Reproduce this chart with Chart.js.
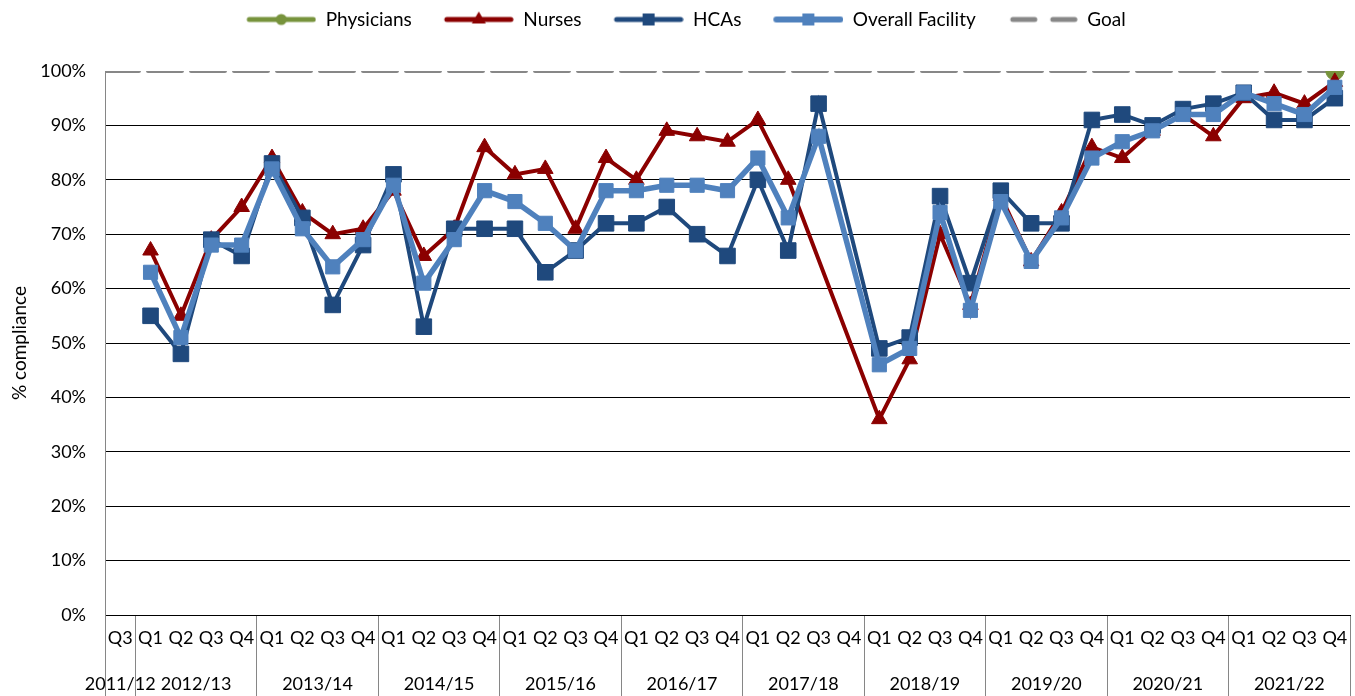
<!DOCTYPE html>
<html>
<head>
<meta charset="utf-8">
<script src="https://cdn.jsdelivr.net/npm/chart.js@4.4.1/dist/chart.umd.min.js"></script>
<style>
  html, body { margin: 0; padding: 0; background: #fff; }
</style>
</head>
<body>
<canvas id="chart-compliance" width="1355" height="696"></canvas>
<script>
/**
 * Hand hygiene compliance by staff group — quarterly line chart
 */

// Financial years and the quarters reported in each
const yearLabels = ['2011/12', '2012/13', '2013/14', '2014/15', '2015/16', '2016/17',
  '2017/18', '2018/19', '2019/20', '2020/21', '2021/22'];
const Q = ['Q1', 'Q2', 'Q3', 'Q4'];
const yearQuarters = [['Q3'], Q, Q, Q, Q, Q, Q, Q, Q, Q, Q];
const categories = yearQuarters.flat();

// % compliance per quarter (null = not reported)
const physicians = [null,
  null, null, null, null,  null, null, null, null,  null, null, null, null,
  null, null, null, null,  null, null, null, null,  null, null, null, null,
  null, null, null, null,  null, null, null, null,  null, null, null, null,
  null, null, null, 100];
const nurses = [null,
  67, 55, 69, 75,  84, 74, 70, 71,  78, 66, 71, 86,
  81, 82, 71, 84,  80, 89, 88, 87,  91, 80, null, null,
  36, 47, 70, 57,  77, 65, 74, 86,  84, 89, 92, 88,
  95, 96, 94, 98];
const hcas = [null,
  55, 48, 69, 66,  83, 73, 57, 68,  81, 53, 71, 71,
  71, 63, 67, 72,  72, 75, 70, 66,  80, 67, 94, null,
  49, 51, 77, 61,  78, 72, 72, 91,  92, 90, 93, 94,
  96, 91, 91, 95];
const overall = [null,
  63, 51, 68, 68,  82, 71, 64, 69,  79, 61, 69, 78,
  76, 72, 67, 78,  78, 79, 79, 78,  84, 73, 88, null,
  46, 49, 74, 56,  76, 65, 73, 84,  87, 89, 92, 92,
  96, 94, 92, 97];
const goal = 100;

const yTicks = [0, 10, 20, 30, 40, 50, 60, 70, 80, 90, 100];

/** Colour palette */
const COLORS = {
  physicians: '#77933C',
  nurses: '#8B0000',
  hcas: '#1F497D',
  overall: '#4F81BD',
  goal: '#878787',
  axis: '#868686',
  grid: '#000000',
};

// year group centres / boundaries on the category index
const yearCenters = [];
const yearEdges = new Set([0]);
let start = 0;
yearQuarters.forEach((q) => {
  yearCenters.push(start + (q.length - 1) / 2);
  start += q.length;
  yearEdges.add(start);
});
const xMin = -0.5;
const xMax = categories.length - 0.5;

Chart.defaults.font.family = "Lato, 'Open Sans', sans-serif";
Chart.defaults.font.size = 18;
Chart.defaults.color = '#000';

/**
 * Legend icon: line sample with the series marker
 */
function makeLegendIcon(color, marker, lineWidth) {
  const c = document.createElement('canvas');
  c.width = 92;
  c.height = 22;
  const g = c.getContext('2d');
  const y = 11;
  const x0 = 25;
  const x1 = 89;
  const mx = (x0 + x1) / 2;
  g.strokeStyle = color;
  g.fillStyle = color;
  g.lineWidth = lineWidth;
  g.lineCap = 'round';
  if (marker === 'dash') {
    g.beginPath();
    g.moveTo(x0 + 2, y); g.lineTo(x0 + 24, y);
    g.moveTo(x1 - 22, y); g.lineTo(x1, y);
    g.stroke();
    return c;
  }
  g.beginPath();
  g.moveTo(x0, y);
  g.lineTo(x1, y);
  g.stroke();
  g.beginPath();
  if (marker === 'circle') {
    g.arc(mx, y, 5.5, 0, Math.PI * 2);
  } else if (marker === 'triangle') {
    g.moveTo(mx, y - 8);
    g.lineTo(mx + 7, y + 4);
    g.lineTo(mx - 7, y + 4);
    g.closePath();
  } else {
    g.rect(mx - 6, y - 6, 12, 12);
  }
  g.fill();
  return c;
}

const legendIcons = [
  makeLegendIcon(COLORS.physicians, 'circle', 5),
  makeLegendIcon(COLORS.nurses, 'triangle', 5),
  makeLegendIcon(COLORS.hcas, 'rect', 5),
  makeLegendIcon(COLORS.overall, 'rect', 6),
  makeLegendIcon(COLORS.goal, 'dash', 5),
];

const ctx = document.getElementById('chart-compliance');

new Chart(ctx, {
  type: 'line',
  data: {
    labels: categories,
    datasets: [
      {
        label: 'Physicians',
        data: physicians,
        borderColor: COLORS.physicians,
        backgroundColor: COLORS.physicians,
        borderWidth: 4,
        pointStyle: 'circle',
        pointRadius: 9,
        pointBorderWidth: 1,
        spanGaps: true,
        order: 3,
      },
      {
        label: 'Nurses',
        data: nurses,
        borderColor: COLORS.nurses,
        backgroundColor: COLORS.nurses,
        borderWidth: 4,
        pointStyle: 'triangle',
        pointRadius: 9,
        pointBorderWidth: 1,
        spanGaps: true,
        order: 2,
      },
      {
        label: 'HCAs',
        data: hcas,
        borderColor: COLORS.hcas,
        backgroundColor: COLORS.hcas,
        borderWidth: 4,
        pointStyle: 'rect',
        pointRadius: 11,
        pointBorderWidth: 1,
        spanGaps: true,
        order: 1,
      },
      {
        label: 'Overall Facility',
        data: overall,
        borderColor: COLORS.overall,
        backgroundColor: COLORS.overall,
        borderWidth: 5.5,
        pointStyle: 'rect',
        pointRadius: 10,
        pointBorderWidth: 1,
        spanGaps: true,
        order: 0,
      },
      {
        label: 'Goal',
        data: [{ x: xMin, y: goal }, { x: xMax, y: goal }],
        xAxisID: 'x2',
        borderColor: COLORS.goal,
        backgroundColor: COLORS.goal,
        borderWidth: 4,
        borderDash: [34, 9],
        borderCapStyle: 'round',
        pointRadius: 0,
        order: 4,
      },
    ],
  },
  options: {
    responsive: false,
    animation: false,
    events: [],
    layout: {
      autoPadding: false,
      padding: { left: 0, right: 5, top: 0, bottom: 0 },
    },
    plugins: {
      legend: {
        position: 'top',
        weight: 3000,
        labels: {
          usePointStyle: true,
          pointStyleWidth: 92,
          padding: 10,
          color: '#000',
          font: { size: 19 },
          generateLabels: (chart) => chart.data.datasets.map((ds, i) => ({
            text: ds.label,
            pointStyle: legendIcons[i],
            datasetIndex: i,
            hidden: false,
            lineWidth: 0,
            strokeStyle: 'transparent',
            fillStyle: 'transparent',
            fontColor: '#000',
          })),
        },
      },
      // spacer between legend and plot
      title: {
        display: true,
        text: '',
        font: { size: 10 },
        padding: { top: 20, bottom: 0 },
      },
      tooltip: { enabled: false },
    },
    scales: {
      x: {
        type: 'category',
        offset: true,
        weight: 0,
        afterFit: (s) => { s.height = 58; },
        grid: {
          offset: true,
          drawOnChartArea: false,
          drawTicks: true,
          tickLength: 90,
          tickWidth: 1,
          tickColor: (c) => (c.type !== 'tick' || yearEdges.has(c.index) ? COLORS.axis : 'transparent'),
        },
        border: { color: '#000', width: 1 },
        ticks: {
          autoSkip: false,
          maxRotation: 0,
          minRotation: 0,
          padding: -78,
          color: '#000',
        },
      },
      x2: {
        type: 'linear',
        position: 'bottom',
        weight: 1,
        min: xMin,
        max: xMax,
        afterFit: (s) => { s.height = 23; },
        afterBuildTicks: (s) => { s.ticks = yearCenters.map((v) => ({ value: v })); },
        grid: { display: false, drawTicks: false },
        border: { display: false },
        ticks: {
          autoSkip: false,
          maxRotation: 0,
          padding: 0,
          color: '#000',
          callback: (v, i) => yearLabels[i],
        },
      },
      y: {
        min: 0,
        max: 100,
        afterFit: (s) => { s.width = 105; },
        afterBuildTicks: (s) => { s.ticks = yTicks.map((v) => ({ value: v })); },
        grid: {
          color: (c) => (c.tick && c.tick.value === 100 ? 'transparent' : COLORS.grid),
          lineWidth: 1,
          drawTicks: false,
        },
        border: { color: COLORS.axis, width: 1 },
        ticks: {
          padding: 19,
          color: '#000',
          callback: (v) => `${v}%`,
        },
        title: {
          display: true,
          text: '% compliance',
          color: '#000',
          font: { size: 19 },
          padding: { top: 8, bottom: 4 },
        },
      },
    },
  },
});
</script>
</body>
</html>
